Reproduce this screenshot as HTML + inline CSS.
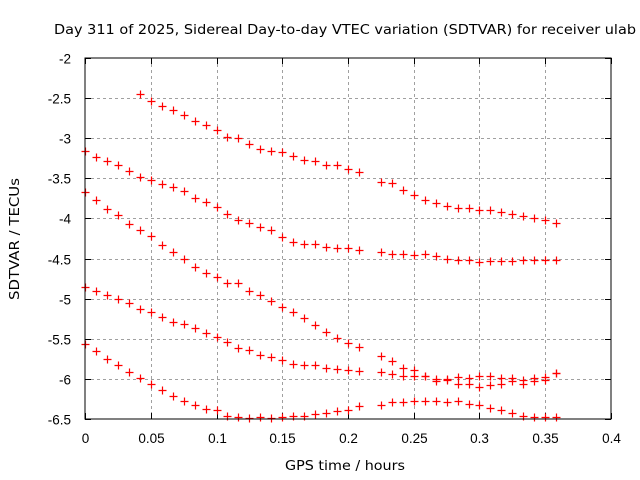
<!DOCTYPE html>
<html><head><meta charset="utf-8"><style>
html,body{margin:0;padding:0;background:#fff;}
svg{display:block;font-family:"Liberation Sans",Arial,sans-serif;}
.dv{font-family:"DejaVu Sans","Liberation Sans",sans-serif;}
</style></head><body>
<svg id="chart" width="640" height="480">
<text class="dv" x="54" y="34" font-size="13" textLength="582" lengthAdjust="spacingAndGlyphs">Day 311 of 2025, Sidereal Day-to-day VTEC variation (SDTVAR) for receiver ulab</text>
<text class="dv" transform="translate(19,239) rotate(-90)" font-size="13" text-anchor="middle" textLength="122" lengthAdjust="spacingAndGlyphs">SDTVAR / TECUs</text>
<text class="dv" x="345" y="470" font-size="13" text-anchor="middle" textLength="120" lengthAdjust="spacingAndGlyphs">GPS time / hours</text>
<g id="grid"></g>
<g id="ticks"></g>
<g id="marks"></g>
<rect x="85" y="58" width="526" height="361" fill="none" stroke="#000" stroke-width="1"/>
</svg>
<script>
const times=[0,0.00833,0.01667,0.025,0.03333,0.04167,0.05,0.05833,0.06667,0.075,0.08333,0.09167,0.1,0.10833,0.11667,0.125,0.13333,0.14167,0.15,0.15833,0.16667,0.175,0.18333,0.19167,0.2,0.20833,0.225,0.23333,0.24167,0.25,0.25833,0.26667,0.275,0.28333,0.29167,0.3,0.30833,0.31667,0.325,0.33333,0.34167,0.35,0.35833];
const seriesA=[null,null,null,null,null,-2.45,-2.53,-2.60,-2.65,-2.71,-2.78,-2.84,-2.90,-2.98,-3.00,-3.07,-3.13,-3.16,-3.17,-3.22,-3.27,-3.28,-3.33,-3.33,-3.38,-3.42,-3.54,-3.56,-3.65,-3.71,-3.77,-3.81,-3.85,-3.87,-3.87,-3.90,-3.90,-3.92,-3.95,-3.97,-3.99,-4.02,-4.06];
const seriesB=[-3.16,-3.23,-3.29,-3.34,-3.41,-3.48,-3.52,-3.57,-3.61,-3.66,-3.75,-3.79,-3.86,-3.95,-4.02,-4.06,-4.11,-4.15,-4.23,-4.29,-4.32,-4.32,-4.35,-4.37,-4.37,-4.39,-4.42,-4.44,-4.44,-4.46,-4.44,-4.47,-4.50,-4.52,-4.52,-4.54,-4.53,-4.53,-4.53,-4.52,-4.52,-4.52,-4.52];
const seriesC=[-3.67,-3.77,-3.88,-3.96,-4.07,-4.14,-4.22,-4.33,-4.42,-4.51,-4.60,-4.68,-4.73,-4.80,-4.80,-4.90,-4.95,-5.03,-5.11,-5.17,-5.24,-5.33,-5.41,-5.49,-5.55,-5.60,-5.72,-5.78,-5.87,-5.89,-5.97,-6.03,-6.01,-6.06,-6.06,-6.10,-6.07,-6.06,-6.03,-6.06,-6.03,-6.02,-5.93];
const seriesD=[-4.85,-4.91,-4.96,-5.01,-5.06,-5.13,-5.16,-5.23,-5.29,-5.32,-5.37,-5.43,-5.48,-5.54,-5.61,-5.64,-5.70,-5.73,-5.77,-5.81,-5.83,-5.83,-5.87,-5.88,-5.89,-5.90,-5.92,-5.94,-5.96,-5.97,-5.97,-6.00,-6.00,-5.98,-5.99,-5.96,-5.97,-5.99,-5.99,-6.01,-5.99,-5.98,-5.93];
const seriesE=[-5.57,-5.65,-5.75,-5.83,-5.92,-5.99,-6.06,-6.14,-6.21,-6.27,-6.32,-6.37,-6.39,-6.46,-6.48,-6.49,-6.48,-6.49,-6.48,-6.46,-6.46,-6.44,-6.43,-6.40,-6.39,-6.34,-6.32,-6.29,-6.29,-6.27,-6.27,-6.27,-6.29,-6.27,-6.31,-6.33,-6.36,-6.39,-6.42,-6.46,-6.48,-6.48,-6.48];
const xTicks=[0,0.05,0.1,0.15,0.2,0.25,0.3,0.35,0.4];
const xTickLabels=["0","0.05","0.1","0.15","0.2","0.25","0.3","0.35","0.4"];
const yTicks=[-2,-2.5,-3,-3.5,-4,-4.5,-5,-5.5,-6,-6.5];
const yTickLabels=["-2","-2.5","-3","-3.5","-4","-4.5","-5","-5.5","-6","-6.5"];

const NS="http://www.w3.org/2000/svg";
const L=85,R=611,T=58,B=419;
function xs(v){return L+(v-0)/(0.4-0)*(R-L);}
function ys(v){return T+(-2-v)/(4.5)*(B-T);}
function mk(tag,attrs,parent){const e=document.createElementNS(NS,tag);for(const k in attrs)e.setAttribute(k,attrs[k]);parent.appendChild(e);return e;}
const grid=document.getElementById('grid'),ticks=document.getElementById('ticks'),marks=document.getElementById('marks');
xTicks.forEach((t,i)=>{
  const x=Math.round(xs(t))+0.5;
  if(i>0&&i<xTicks.length-1){
    const g=mk('line',{x1:x,y1:T,x2:x,y2:B,stroke:'#a0a0a0','stroke-dasharray':'3,3'},grid);
    
    
  }
  const a=mk('line',{x1:x,y1:B,x2:x,y2:B-6,stroke:'#000'},ticks);
  
  
  const b=mk('line',{x1:x,y1:T,x2:x,y2:T+6,stroke:'#000'},ticks);
  
  
  const tx=mk('text',{x:x,y:443,'font-size':'13.5','text-anchor':'middle'},ticks);
  tx.textContent=xTickLabels[i];
  
  
});
yTicks.forEach((t,i)=>{
  const y=Math.round(ys(t))+0.5;
  if(i>0&&i<yTicks.length-1){
    const g=mk('line',{x1:L,y1:y,x2:R,y2:y,stroke:'#a0a0a0','stroke-dasharray':'3,3'},grid);
    
    
  }
  const a=mk('line',{x1:L,y1:y,x2:L+6,y2:y,stroke:'#000'},ticks);
  
  
  const b=mk('line',{x1:R,y1:y,x2:R-6,y2:y,stroke:'#000'},ticks);
  
  
  const tx=mk('text',{x:71,y:y+5,'font-size':'13.5','text-anchor':'end'},ticks);
  tx.textContent=yTickLabels[i];
  
  
});
const allSeries=[seriesA,seriesB,seriesC,seriesD,seriesE];
allSeries.forEach((s,si)=>{
  s.forEach((v,i)=>{
    if(v===null)return;
    const x=Math.round(xs(times[i]))+0.5,y=Math.round(ys(v))+0.5;
    const p=mk('path',{d:`M${x-4},${y}H${x+4}M${x},${y-4}V${y+4}`,stroke:'#ff0000','stroke-width':'1.2',fill:'none'},marks);
    
    
  });
});
</script>
</body></html>
